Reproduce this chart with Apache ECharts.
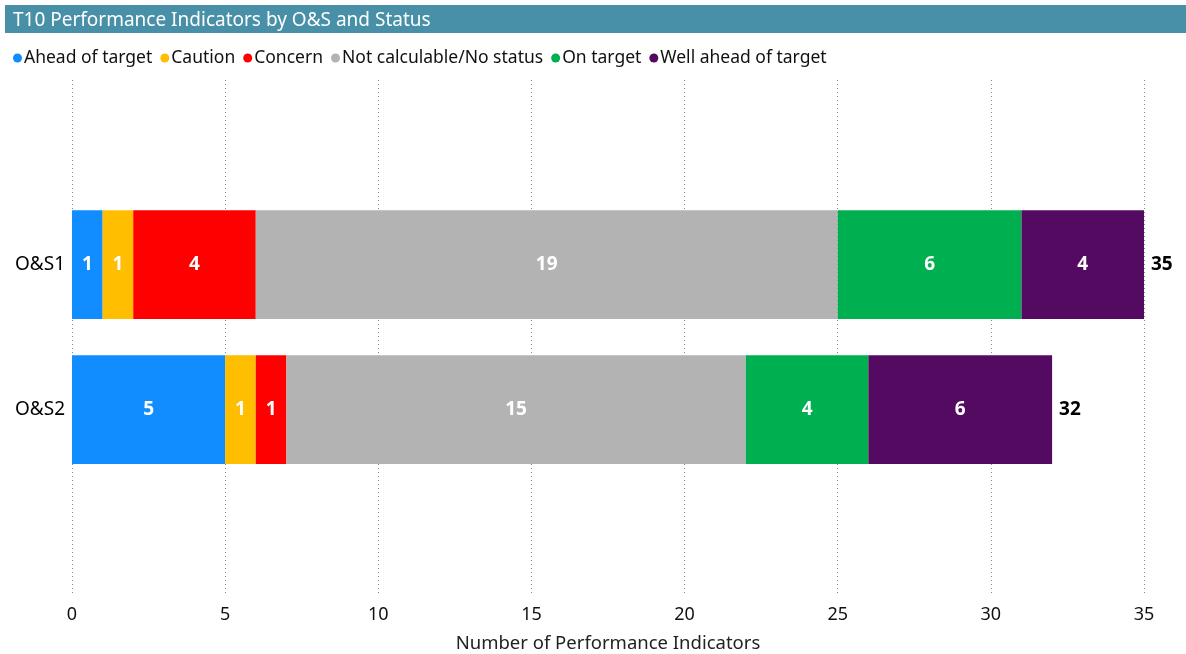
<!DOCTYPE html>
<html>
<head>
<meta charset="utf-8">
<script src="https://cdn.jsdelivr.net/npm/echarts@6/dist/echarts.min.js"></script>
<style>
  html, body { margin: 0; padding: 0; background: #fff; }
  #main { width: 1186px; height: 654px; }
</style>
</head>
<body>
<div id="main"></div>
<script>
// data
const categories = ['O&S1', 'O&S2'];
const statuses = ['Ahead of target', 'Caution', 'Concern', 'Not calculable/No status', 'On target', 'Well ahead of target'];
const aheadOfTarget = [1, 5];
const caution = [1, 1];
const concern = [4, 1];
const notCalculable = [19, 15];
const onTarget = [6, 4];
const wellAhead = [4, 6];
const xTicks = [0, 5, 10, 15, 20, 25, 30, 35];

const colors = ['#118DFF', '#FFBE00', '#FF0000', '#B3B3B3', '#00B050', '#530A60'];
const seriesValues = [aheadOfTarget, caution, concern, notCalculable, onTarget, wellAhead];
const totals = categories.map((c, i) => seriesValues.reduce((s, arr) => s + arr[i], 0));

const font = '"Noto Sans", "Open Sans", sans-serif';

const chart = echarts.init(document.getElementById('main'));

const barSeries = statuses.map((name, k) => ({
  name,
  type: 'bar',
  stack: 'total',
  xAxisIndex: 1,
  yAxisIndex: 1,
  barCategoryGap: '25%',
  itemStyle: { color: colors[k] },
  label: {
    show: true,
    position: 'inside',
    color: '#fff',
    fontWeight: 'bold',
    fontSize: 19,
    fontFamily: font
  },
  data: seriesValues[k]
}));

// invisible series used for the total labels at the end of each bar
barSeries.push({
  name: 'Total',
  type: 'bar',
  stack: 'total',
  xAxisIndex: 1,
  yAxisIndex: 1,
  itemStyle: { color: 'transparent' },
  label: {
    show: true,
    position: 'right',
    distance: 7,
    color: '#000',
    fontWeight: 'bold',
    fontSize: 19,
    fontFamily: font,
    formatter: p => totals[p.dataIndex]
  },
  data: categories.map(() => 0)
});

const option = {
  animation: false,
  textStyle: { fontFamily: font },
  graphic: [{
    type: 'rect',
    left: 5,
    top: 5,
    shape: { width: 1181, height: 28 },
    style: { fill: '#488FA8' }
  }],
  title: {
    text: 'T10 Performance Indicators by O&S and Status',
    left: 8,
    top: 6,
    textStyle: { color: '#fff', fontSize: 19, fontWeight: 'normal', fontFamily: font }
  },
  legend: {
    data: statuses,
    left: 8,
    top: 44,
    icon: 'circle',
    itemWidth: 9,
    itemHeight: 9,
    itemGap: 8,
    textStyle: { color: '#111', fontSize: 17.5, fontFamily: font, padding: [0, 0, 0, -3] }
  },
  grid: [
    { left: 72, right: 42, top: 80, bottom: 59, outerBoundsMode: 'none' },
    { left: 72, right: 42, top: 192, bottom: 172, outerBoundsMode: 'none' }
  ],
  xAxis: [{
    gridIndex: 0,
    type: 'value',
    min: xTicks[0],
    max: xTicks[xTicks.length - 1],
    interval: 5,
    axisLine: { show: false },
    axisTick: { show: false },
    axisLabel: { color: '#111', fontSize: 18, margin: 11 },
    splitLine: { show: true, lineStyle: { color: '#888', type: [1, 3], width: 1 } },
    name: 'Number of Performance Indicators',
    nameLocation: 'middle',
    nameGap: 39,
    nameTextStyle: { color: '#222', fontSize: 18.5 }
  }, {
    gridIndex: 1,
    type: 'value',
    min: xTicks[0],
    max: xTicks[xTicks.length - 1],
    show: false
  }],
  yAxis: [{
    gridIndex: 0,
    type: 'category',
    data: categories,
    show: false
  }, {
    gridIndex: 1,
    type: 'category',
    inverse: true,
    data: categories,
    axisLine: { show: false },
    axisTick: { show: false },
    axisLabel: { color: '#000', fontSize: 19, margin: 7 }
  }],
  series: barSeries
};

chart.setOption(option);
</script>
</body>
</html>
